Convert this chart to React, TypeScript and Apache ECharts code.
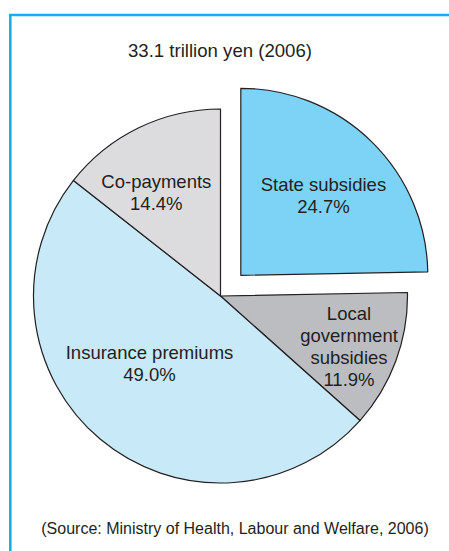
import React, { useEffect, useRef } from "react";
import * as echarts from "echarts";

const categories = ["State subsidies", "Local\ngovernment\nsubsidies", "Insurance premiums", "Co-payments"];
const shares = [24.7, 11.9, 49.0, 14.4];
const explodedIndex = 0;
const titleText = "33.1 trillion yen (2006)";
const sourceText = "(Source: Ministry of Health, Labour and Welfare, 2006)";

const sliceColors = ["#7dd3f5", "#bcbdc0", "#c8e9f8", "#dcdcde"];
const labelShift = [
  [15, -11],
  [38, 17],
  [-9, -6],
  [-22, -17],
];

const FONT = "'Liberation Sans', Arial, Helvetica, sans-serif";
const INK = "#231f20";
const FRAME = "#14b0ee";

export default function App() {
  const ref = useRef<HTMLDivElement>(null);
  useEffect(() => {
    if (!ref.current) return;
    const chart = echarts.init(ref.current, null, { renderer: "svg" });
    chart.setOption({
      animation: false,
      backgroundColor: "#ffffff",
      graphic: [
        { type: "line", shape: { x1: 9, y1: 15, x2: 449, y2: 15 }, style: { stroke: FRAME, lineWidth: 2.6 } },
        { type: "line", shape: { x1: 10.3, y1: 14, x2: 10.3, y2: 551 }, style: { stroke: FRAME, lineWidth: 2.6 } },
        {
          type: "text",
          x: 220,
          y: 50,
          style: { text: titleText, fill: INK, font: `18.6px ${FONT}`, textAlign: "center", textVerticalAlign: "middle" },
        },
        {
          type: "text",
          x: 235,
          y: 528,
          style: { text: sourceText, fill: INK, font: `16px ${FONT}`, textAlign: "center", textVerticalAlign: "middle" },
        },
      ],
      series: [
        {
          type: "pie",
          center: [220.5, 296],
          radius: [0, 187],
          startAngle: 90,
          clockwise: true,
          selectedMode: "single",
          selectedOffset: 29,
          avoidLabelOverlap: false,
          emphasis: { disabled: true },
          itemStyle: { borderColor: INK, borderWidth: 1.2 },
          label: {
            show: true,
            position: "inside",
            color: INK,
            fontFamily: FONT,
            fontSize: 18.5,
            lineHeight: 22,
            align: "center",
            formatter: (p: any) => `${p.name}\n${Number(p.value).toFixed(1)}%`,
          },
          labelLine: { show: false },
          labelLayout: (p: any) => ({ dx: labelShift[p.dataIndex][0], dy: labelShift[p.dataIndex][1] }),
          data: categories.map((name, i) => ({
            name,
            value: shares[i],
            selected: i === explodedIndex,
            itemStyle: { color: sliceColors[i] },
          })),
        },
      ],
    });
    return () => chart.dispose();
  }, []);
  return <div ref={ref} style={{ position: "absolute", left: 0, top: 0, width: 449, height: 551 }} />;
}
